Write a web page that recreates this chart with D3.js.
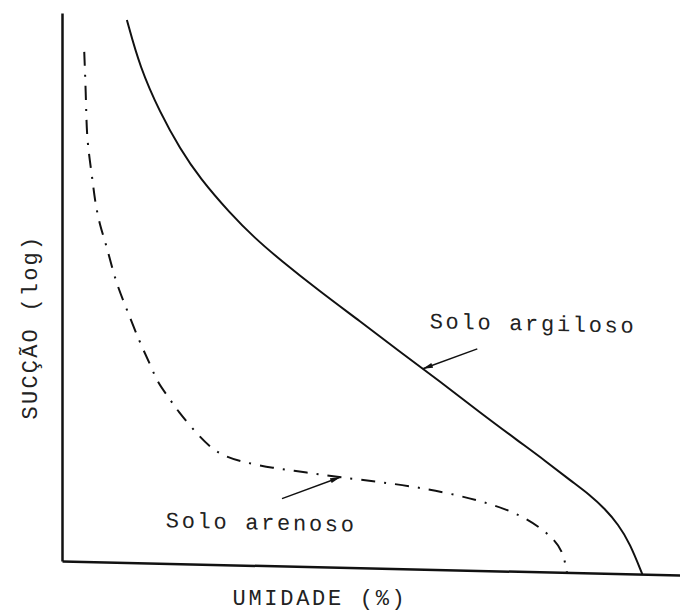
<!DOCTYPE html>
<head>
    <meta charset="utf-8">
    <title>Curva de retenção - sucção x umidade</title>
    <style>
        body { margin: 0; background: #fff; }
        text { font-family: "Liberation Mono", "DejaVu Sans Mono", monospace; fill: #222; }
    </style>
</head>

<body>

<svg width="680" height="613"></svg>

<script src="https://d3js.org/d3.v7.min.js"></script>

<script>

    // umidade (%) and sucção (log units)
    var argilosoX = [10.5, 12.6, 15.9, 19.1, 22.3, 27.2, 31.2, 35.3, 41.7, 48.2, 54.7, 61.2, 67.6, 74.1, 78.2, 82.2, 85.4, 87.9, 90.0, 91.9, 93.9];
    var argilosoY = [6.93, 6.33, 5.75, 5.30, 4.93, 4.49, 4.18, 3.91, 3.52, 3.15, 2.77, 2.40, 2.02, 1.65, 1.42, 1.18, 1.00, 0.82, 0.63, 0.39, 0.0];

    var arenosoX = [3.6, 3.9, 4.0, 4.9, 5.3, 6.1, 7.3, 8.6, 10.5, 12.6, 14.2, 15.5, 17.2, 18.6, 22.3, 25.1, 28.8, 34.1, 39.6, 45.0, 51.5, 58.4, 67.6, 74.6, 79.4, 81.1, 81.7];
    var arenosoY = [6.51, 5.89, 5.39, 4.91, 4.62, 4.30, 4.02, 3.60, 3.23, 2.81, 2.55, 2.30, 2.13, 1.96, 1.62, 1.42, 1.32, 1.25, 1.20, 1.15, 1.10, 1.04, 0.90, 0.72, 0.45, 0.26, 0.0];

    // labels: text start, arrow tail and arrow tip (data units)
    var labelNames = ["Solo argiloso", "Solo arenoso"];
    var labelPos   = [[59.5, 3.08], [16.8, 0.46]];
    var arrowFrom  = [[67.2, 2.83], [35.6, 0.86]];
    var arrowTo    = [[58.4, 2.56], [45.0, 1.15]];

    var xTitle = "UMIDADE (%)",
        yTitle = "SUCÇÃO (log)";

    var svg = d3.select("svg"),
        margin = {top: 13, right: 0, bottom: 52, left: 62},
        width = svg.attr("width") - margin.left - margin.right,
        height = svg.attr("height") - margin.top - margin.bottom;

    var x = d3.scaleLinear().domain([0, 100]).range([0, width]),
        y = d3.scaleLinear().domain([0, 7]).range([height, 0]);

    // the scanned figure is a little skewed (x axis drops ~14px to the right)
    var g = svg.append("g")
        .attr("transform", "translate(" + margin.left + "," + margin.top + ") skewY(1.3)");

    var line = d3.line()
        .x(function(d) { return x(d[0]); })
        .y(function(d) { return y(d[1]); })
        .curve(d3.curveBasis);   // smooths out the reading noise

    var series = [
        {key: "argiloso", pts: d3.zip(argilosoX, argilosoY), dash: null},
        {key: "arenoso",  pts: d3.zip(arenosoX, arenosoY),  dash: "14,9,2,9"}
    ];

    g.selectAll(".curve")
        .data(series)
        .enter().append("path")
        .attr("class", "curve")
        .attr("d", function(d) { return line(d.pts); })
        .attr("fill", "none")
        .attr("stroke", "#111")
        .attr("stroke-width", 2)
        .attr("stroke-dasharray", function(d) { return d.dash; });

    // axes: plain lines, no ticks
    g.append("g")
        .attr("transform", "translate(0," + height + ")")
        .call(d3.axisBottom(x).ticks(0).tickSizeOuter(0));

    g.append("g")
        .call(d3.axisLeft(y).ticks(0).tickSizeOuter(0));

    g.selectAll(".domain")
        .attr("stroke", "#111")
        .attr("stroke-width", 2.5);

    // arrow heads
    svg.append("defs").append("marker")
        .attr("id", "head")
        .attr("viewBox", "0 -3 10 6")
        .attr("refX", 10)
        .attr("refY", 0)
        .attr("markerWidth", 10)
        .attr("markerHeight", 6)
        .attr("markerUnits", "userSpaceOnUse")
        .attr("orient", "auto")
      .append("path")
        .attr("d", "M0,-2.5L10,0L0,2.5Z")
        .attr("fill", "#111");

    g.selectAll(".arrow")
        .data(labelNames)
        .enter().append("line")
        .attr("class", "arrow")
        .attr("x1", function(d, i) { return x(arrowFrom[i][0]); })
        .attr("y1", function(d, i) { return y(arrowFrom[i][1]); })
        .attr("x2", function(d, i) { return x(arrowTo[i][0]); })
        .attr("y2", function(d, i) { return y(arrowTo[i][1]); })
        .attr("stroke", "#111")
        .attr("stroke-width", 1.4)
        .attr("marker-end", "url(#head)");

    g.selectAll(".label")
        .data(labelNames)
        .enter().append("text")
        .attr("class", "label")
        .attr("x", function(d, i) { return x(labelPos[i][0]); })
        .attr("y", function(d, i) { return y(labelPos[i][1]); })
        .style("font-size", "22px")
        .style("letter-spacing", "2.7px")
        .text(function(d) { return d; });

    // axis titles
    svg.append("text")
        .attr("x", 320)
        .attr("y", 605)
        .attr("text-anchor", "middle")
        .style("font-size", "22px")
        .style("letter-spacing", "2.7px")
        .text(xTitle);

    svg.append("text")
        .attr("transform", "translate(37,327) rotate(-90)")
        .attr("text-anchor", "middle")
        .style("font-size", "22px")
        .style("letter-spacing", "2.2px")
        .text(yTitle);

</script>

</body>
